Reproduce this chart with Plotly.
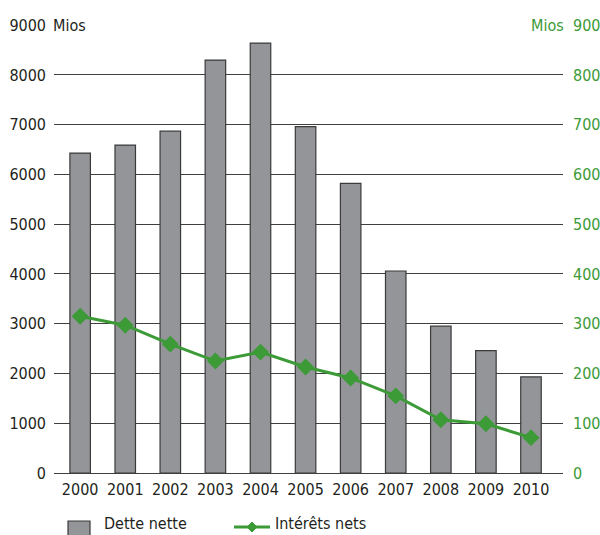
import plotly.graph_objects as go

years = ["2000", "2001", "2002", "2003", "2004", "2005", "2006", "2007", "2008", "2009", "2010"]
dette_nette = [6430, 6590, 6870, 8300, 8640, 6960, 5820, 4060, 2950, 2460, 1930]
interets_nets = [315, 297, 259, 225, 243, 213, 191, 155, 107, 99, 71]
left_ticks = [0, 1000, 2000, 3000, 4000, 5000, 6000, 7000, 8000, 9000]
right_ticks = [0, 100, 200, 300, 400, 500, 600, 700, 800, 900]

FONT = "DejaVu Sans Condensed, Liberation Sans Narrow, DejaVu Sans"
FS = 16
DARK = "#231f20"
GREEN = "#3c9a37"
BAR = "#939598"
W, H = 600, 535
ML, MR, MT, MB = 54, 37, 25, 62
PW = W - ML - MR
PH = H - MT - MB


def px(x):
    return (x - ML) / PW


def py(y):
    return (H - MB - y) / PH


def f(color=DARK):
    return dict(family=FONT, size=FS, color=color)


fig = go.Figure()
fig.add_trace(go.Bar(
    x=years, y=dette_nette, name="Dette nette",
    marker=dict(color=BAR, line=dict(color="#3a3a3a", width=1.2)),
    width=0.455, showlegend=False,
))
fig.add_trace(go.Scatter(
    x=years, y=interets_nets, name="Intérêts nets", yaxis="y2",
    mode="lines+markers",
    line=dict(color=GREEN, width=3),
    marker=dict(symbol="diamond", size=13, color=GREEN),
    showlegend=False,
))

fig.update_layout(
    width=W, height=H,
    margin=dict(l=ML, r=MR, t=MT, b=MB),
    paper_bgcolor="white", plot_bgcolor="white",
    font=f(),
    xaxis=dict(range=[-0.58, 10.71], showgrid=False, showline=False,
               ticks="", ticklabelstandoff=5, tickangle=0, automargin=False,
               tickfont=f()),
    yaxis=dict(range=[0, 9004], tickvals=left_ticks,
               ticktext=[str(v) for v in left_ticks],
               showgrid=True, gridcolor="#3f3f3f", gridwidth=1.2,
               zeroline=True, zerolinecolor="#3f3f3f", zerolinewidth=1.2,
               showline=False, ticks="", ticklabelstandoff=7, automargin=False,
               tickfont=f()),
    yaxis2=dict(range=[0, 900.4], tickvals=right_ticks,
                ticktext=[str(v) for v in right_ticks],
                overlaying="y", side="right", showgrid=False,
                zeroline=False, showline=False, ticks="", ticklabelstandoff=9,
                automargin=False, tickfont=f(GREEN)),
)

# "Mios" unit labels on top gridline
fig.add_annotation(xref="paper", yref="y", x=px(50), y=9000, text="Mios",
                   showarrow=False, xanchor="left", yanchor="middle",
                   bgcolor="white", borderpad=2, font=f())
fig.add_annotation(xref="paper", yref="y", x=px(568), y=9000, text="Mios",
                   showarrow=False, xanchor="right", yanchor="middle",
                   bgcolor="white", borderpad=3, font=f(GREEN))

# custom legend
fig.add_shape(type="rect", xref="paper", yref="paper",
              x0=px(68), x1=px(90), y0=py(521), y1=py(545),
              fillcolor=BAR, line=dict(color="#3a3a3a", width=1.2))
fig.add_annotation(xref="paper", yref="paper", x=px(103), y=py(523),
                   text="Dette nette", showarrow=False, xanchor="left",
                   yanchor="middle", borderpad=0, font=f())
fig.add_shape(type="line", xref="paper", yref="paper",
              x0=px(234), x1=px(270), y0=py(527), y1=py(527),
              line=dict(color=GREEN, width=3))
cx, cy, r = 252, 527, 5
fig.add_shape(type="path", xref="paper", yref="paper",
              path=f"M{px(cx - r)},{py(cy)} L{px(cx)},{py(cy - r)} L{px(cx + r)},{py(cy)} L{px(cx)},{py(cy + r)} Z",
              fillcolor=GREEN, line=dict(color=GREEN, width=1))
fig.add_annotation(xref="paper", yref="paper", x=px(274), y=py(523),
                   text="Intérêts nets", showarrow=False, xanchor="left",
                   yanchor="middle", borderpad=0, font=f())

fig.write_html("out.html", config={"displayModeBar": False},
               post_script="document.body.style.margin='0px';document.body.style.overflow='hidden';")
